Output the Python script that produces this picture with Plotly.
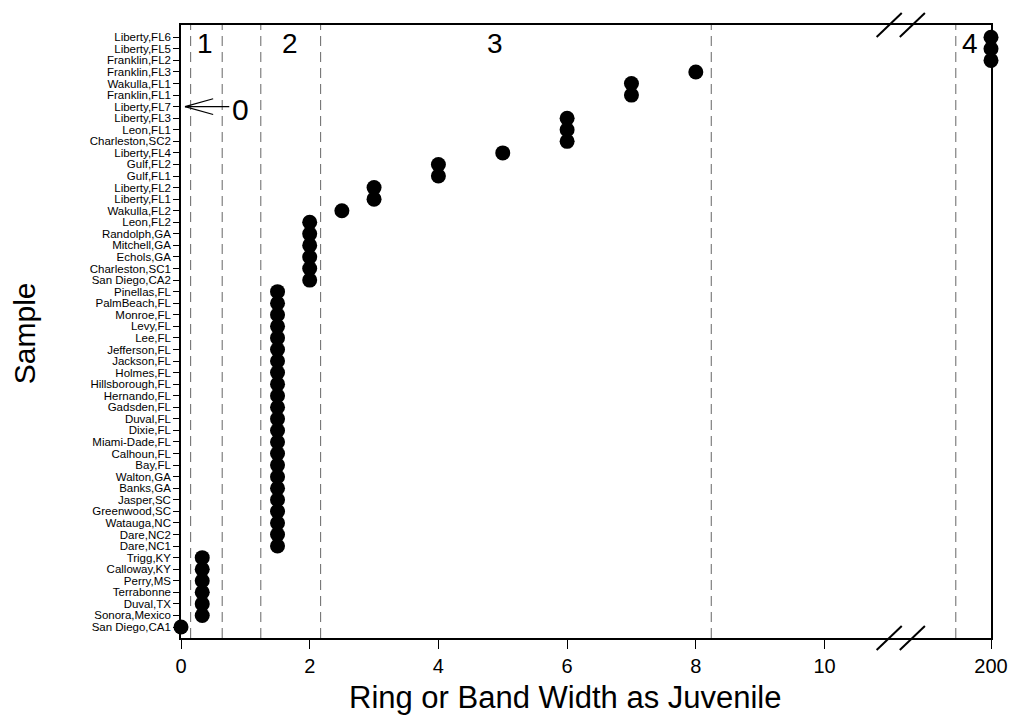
import plotly.graph_objects as go

# ---------------- data (top row first) ----------------
samples = [
    "Liberty,FL6", "Liberty,FL5", "Franklin,FL2", "Franklin,FL3", "Wakulla,FL1",
    "Franklin,FL1", "Liberty,FL7", "Liberty,FL3", "Leon,FL1", "Charleston,SC2",
    "Liberty,FL4", "Gulf,FL2", "Gulf,FL1", "Liberty,FL2", "Liberty,FL1",
    "Wakulla,FL2", "Leon,FL2", "Randolph,GA", "Mitchell,GA", "Echols,GA",
    "Charleston,SC1", "San Diego,CA2", "Pinellas,FL", "PalmBeach,FL", "Monroe,FL",
    "Levy,FL", "Lee,FL", "Jefferson,FL", "Jackson,FL", "Holmes,FL",
    "Hillsborough,FL", "Hernando,FL", "Gadsden,FL", "Duval,FL", "Dixie,FL",
    "Miami-Dade,FL", "Calhoun,FL", "Bay,FL", "Walton,GA", "Banks,GA",
    "Jasper,SC", "Greenwood,SC", "Watauga,NC", "Dare,NC2", "Dare,NC1",
    "Trigg,KY", "Calloway,KY", "Perry,MS", "Terrabonne", "Duval,TX",
    "Sonora,Mexico", "San Diego,CA1",
]
# ring/band width; None = marked by the "0" arrow instead of a dot
widths = [
    200, 200, 200, 8, 7,
    7, None, 6, 6, 6,
    5, 4, 4, 3, 3,
    2.5, 2, 2, 2, 2,
    2, 2, 1.5, 1.5, 1.5,
    1.5, 1.5, 1.5, 1.5, 1.5,
    1.5, 1.5, 1.5, 1.5, 1.5,
    1.5, 1.5, 1.5, 1.5, 1.5,
    1.5, 1.5, 1.5, 1.5, 1.5,
    0.33, 0.33, 0.33, 0.33, 0.33,
    0.33, 0,
]
arrow_sample = "Liberty,FL7"
arrow_label = "0"
x_ticks = [0, 2, 4, 6, 8, 10, 200]
group_bounds = [0.15, 0.64, 1.24, 2.17, 8.24, 12.04]   # dashed separators (axis units)
group_labels = ["1", "2", "3", "4"]
group_label_x = [0.37, 1.69, 4.88, 12.26]

# ---------------- broken axis mapping ----------------
BREAK_POS = 12.587   # axis position where the "200" value is drawn
X_MAX = 12.587

def axis_x(v):
    return BREAK_POS if v > 11 else v

n = len(samples)
ypos = [n - 1 - i for i in range(n)]

xs = [axis_x(v) for v in widths if v is not None]
ys = [ypos[i] for i, v in enumerate(widths) if v is not None]

fig = go.Figure()
fig.add_trace(go.Scatter(
    x=xs, y=ys, mode="markers",
    marker=dict(size=15, color="black", line=dict(width=0)),
    cliponaxis=False, showlegend=False, hoverinfo="skip",
))

shapes = []
# dashed separators
for b in group_bounds:
    shapes.append(dict(type="line", xref="x", yref="paper", x0=b, x1=b, y0=0, y1=1,
                       line=dict(color="#666666", width=1, dash="10px,6px"), layer="below"))
# axis break slashes (bottom and top)
for anchor in (0, 1):
    for x0, x1 in ((10.81, 11.20), (11.17, 11.56)):
        shapes.append(dict(type="line", xref="x", yref="paper", ysizemode="pixel", yanchor=anchor,
                           x0=x0, x1=x1, y0=-12, y1=12,
                           line=dict(color="black", width=2)))
# arrow for the zero-width sample
ya = ypos[samples.index(arrow_sample)]
tip = 0.062
shapes.append(dict(type="line", xref="x", yref="y", x0=tip, x1=0.75, y0=ya, y1=ya,
                   line=dict(color="black", width=1.2)))
for d in (0.68, -0.68):
    shapes.append(dict(type="line", xref="x", yref="y", x0=tip, x1=0.50, y0=ya, y1=ya + d,
                       line=dict(color="black", width=1.2)))

annotations = []
for lab, gx in zip(group_labels, group_label_x):
    annotations.append(dict(text=lab, x=gx, y=0.970, xref="x", yref="paper", showarrow=False,
                            font=dict(size=28, color="black"), xanchor="center", yanchor="middle"))
annotations.append(dict(text=arrow_label, x=0.93, y=ya - 0.25, xref="x", yref="y", showarrow=False,
                        font=dict(size=30, color="black"), xanchor="center", yanchor="middle"))
# axis titles
annotations.append(dict(text="Ring or Band Width as Juvenile", x=0.475, y=-0.0975, xref="paper",
                        yref="paper", showarrow=False, font=dict(size=31, color="black"),
                        xanchor="center", yanchor="middle"))
annotations.append(dict(text="Sample", x=-0.194, y=0.497, xref="paper", yref="paper",
                        textangle=-90, showarrow=False, font=dict(size=30, color="black"),
                        xanchor="center", yanchor="middle"))

fig.update_layout(
    width=1011, height=717,
    margin=dict(l=181, r=20, t=25, b=79, autoexpand=False),
    paper_bgcolor="white", plot_bgcolor="white",
    font=dict(family="Liberation Sans, Arial, sans-serif", color="black"),
    shapes=shapes, annotations=annotations,
    xaxis=dict(
        range=[0, X_MAX], showgrid=False, zeroline=False,
        tickvals=[axis_x(v) for v in x_ticks], ticktext=[str(v) for v in x_ticks],
        ticks="outside", ticklen=9, tickwidth=1, tickcolor="black",
        tickfont=dict(size=20), showline=True, linecolor="black", linewidth=1.5, mirror=True,
    ),
    yaxis=dict(
        range=[-0.95, n - 1 + 1.06], showgrid=False, zeroline=False,
        tickvals=ypos, ticktext=samples,
        ticks="outside", ticklen=6, tickwidth=1, tickcolor="black",
        tickfont=dict(size=11.5), showline=True, linecolor="black", linewidth=1.5, mirror=True,
    ),
)

# remove the page's default 8px body margin so the 1011x717 figure fills the window exactly
fig.write_html("out.html", config={"displayModeBar": False},
               post_script="document.body.style.margin='0';document.body.style.overflow='hidden';")
